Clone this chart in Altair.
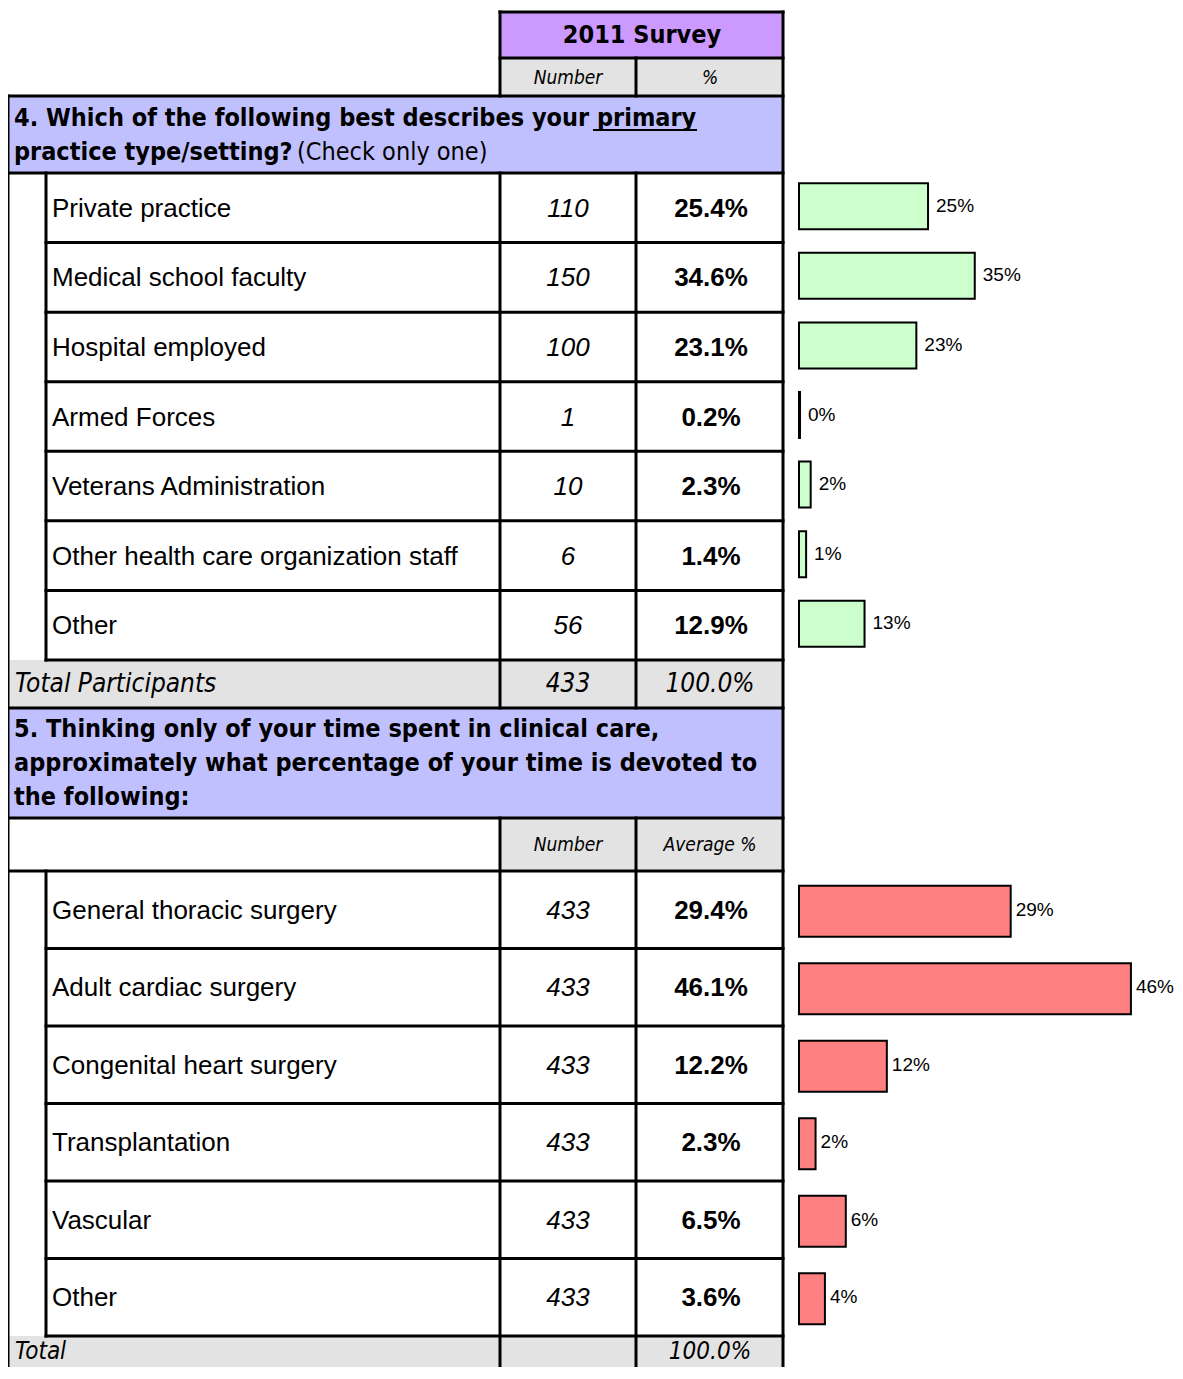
import altair as alt
import pandas as pd

# ---------------- data ----------------
survey_title = "2011 Survey"
q4_question_bold = ["4. Which of the following best describes your primary ", "practice type/setting?"]
q4_question_note = "(Check only one)"
q4_labels = ["Private practice", "Medical school faculty", "Hospital employed", "Armed Forces",
             "Veterans Administration", "Other health care organization staff", "Other"]
q4_numbers = [110, 150, 100, 1, 10, 6, 56]
q4_pcts = [25.4, 34.6, 23.1, 0.2, 2.3, 1.4, 12.9]
q4_total_label = "Total Participants"
q4_total_n = 433
q4_total_pct = 100.0

q5_question = ["5. Thinking only of your time spent in clinical care,",
               "approximately what percentage of your time is devoted to",
               "the following:"]
q5_labels = ["General thoracic surgery", "Adult cardiac surgery", "Congenital heart surgery",
             "Transplantation", "Vascular", "Other"]
q5_numbers = [433, 433, 433, 433, 433, 433]
q5_pcts = [29.4, 46.1, 12.2, 2.3, 6.5, 3.6]
q5_total_label = "Total"
q5_total_pct = 100.0

head_q4 = ["Number", "%"]
head_q5 = ["Number", "Average %"]

# ---------------- layout (page pixels) ----------------
W, H = 1167, 1359
OX, OY = 8, 8
XL, XI, XN, XP, XR = 8, 46, 500, 636, 783
Y_HDR, Y_SUB, Y_Q4, Y_R4 = 12, 58, 96, 173
R4H = (660 - 173) / 7
Y_T1 = Y_R4 + 7 * R4H
Y_Q5 = 708
Y_S5 = 818
Y_R5 = 871
R5H = (1336 - 871) / 6
Y_T2 = Y_R5 + 6 * R5H
Y_END = 1400

GRAY = "#E3E3E3"
PURPLE = "#CC99FF"
BLUE = "#C0C0FF"
GREEN = "#CCFFCC"
RED = "#FF8080"
REG = "Liberation Sans, Arial, Helvetica, sans-serif"
NARROW = "Liberation Sans Narrow, Arial Narrow, DejaVu Sans Condensed, sans-serif"

XS = alt.Scale(domain=[OX, OX + W], range=[0, W], nice=False, zero=False)
YS = alt.Scale(domain=[OY, OY + H], range=[0, H], nice=False, zero=False)

def X(f="x"):
    return alt.X(f"{f}:Q", scale=XS, axis=None)

def Y(f="y"):
    return alt.Y(f"{f}:Q", scale=YS, axis=None)

# ---------------- cell fills ----------------
fills = pd.DataFrame([
    dict(x=XN, x2=XR, y=Y_HDR, y2=Y_SUB, c=PURPLE),
    dict(x=XN, x2=XR, y=Y_SUB, y2=Y_Q4, c=GRAY),
    dict(x=XL, x2=XR, y=Y_Q4, y2=Y_R4, c=BLUE),
    dict(x=XL, x2=XR, y=Y_T1, y2=Y_Q5, c=GRAY),
    dict(x=XL, x2=XR, y=Y_Q5, y2=Y_S5, c=BLUE),
    dict(x=XN, x2=XR, y=Y_S5, y2=Y_R5, c=GRAY),
    dict(x=XL, x2=XR, y=Y_T2, y2=Y_END, c=GRAY),
])
fill_layer = alt.Chart(fills).mark_rect().encode(
    x=X(), x2="x2:Q", y=Y(), y2="y2:Q", color=alt.Color("c:N", scale=None))

# ---------------- grid lines ----------------
lines = []
def hl(y, x1, x2):
    lines.append(dict(x=x1, x2=x2, y=y, y2=y))
def vl(x, y1, y2):
    lines.append(dict(x=x, x2=x, y=y1, y2=y2))

hl(Y_HDR, XN, XR); hl(Y_SUB, XN, XR)
hl(Y_Q4, XL, XR); hl(Y_R4, XL, XR)
for i in range(1, len(q4_labels) + 1):
    hl(Y_R4 + i * R4H, XI, XR)
hl(Y_Q5, XL, XR); hl(Y_S5, XL, XR); hl(Y_R5, XL, XR)
for i in range(1, len(q5_labels) + 1):
    hl(Y_R5 + i * R5H, XI, XR)
vl(XL, Y_Q4, Y_END)
vl(XI, Y_R4, Y_T1); vl(XI, Y_R5, Y_T2)
for xx, top in [(XN, Y_HDR), (XP, Y_SUB)]:
    vl(xx, top, Y_Q4); vl(xx, Y_R4, Y_Q5); vl(xx, Y_S5, Y_END)
vl(XR, Y_HDR, Y_END)
line_df = pd.DataFrame(lines)
line_layer = alt.Chart(line_df).mark_rule(color="black", strokeWidth=3, strokeCap="square").encode(
    x=X(), x2="x2:Q", y=Y(), y2="y2:Q")

underline = alt.Chart(pd.DataFrame([dict(x=593, x2=697, y=130, y2=130)])).mark_rule(
    color="black", strokeWidth=2).encode(x=X(), x2="x2:Q", y=Y(), y2="y2:Q")

# ---------------- texts ----------------
def tl(rows, align="left", font=REG, size=24, weight="normal", style="normal"):
    return alt.Chart(pd.DataFrame(rows, columns=["x", "y", "t"])).mark_text(
        align=align, baseline="middle", font=font, fontSize=size, fontWeight=weight,
        fontStyle=style, color="black").encode(x=X(), y=Y(), text="t:N")

c4 = [Y_R4 + (i + 0.5) * R4H for i in range(len(q4_labels))]
c5 = [Y_R5 + (i + 0.5) * R5H for i in range(len(q5_labels))]
XNC, XPC = 568, 710
Y_TOT1 = (Y_T1 + Y_Q5) / 2
Y_TOT2 = 1352

texts = [
    tl([(642, 35, survey_title)], "center", NARROW, 25, "bold"),
    tl([(XNC, 78, head_q4[0]), (XPC, 78, head_q4[1]),
        (XNC, 845, head_q5[0]), (XPC, 845, head_q5[1])], "center", NARROW, 19, "normal", "italic"),
    tl([(14, 118, q4_question_bold[0]), (14, 152, q4_question_bold[1])] +
       [(14, 729 + 34 * i, s) for i, s in enumerate(q5_question)], "left", NARROW, 25, "bold"),
    tl([(297, 152, q4_question_note)], "left", NARROW, 25),
    tl([(52, c + 1, s) for c, s in zip(c4, q4_labels)] +
       [(52, c + 1, s) for c, s in zip(c5, q5_labels)], "left", REG, 26),
    tl([(XNC, c + 1, str(n)) for c, n in zip(c4, q4_numbers)] +
       [(XNC, c + 1, str(n)) for c, n in zip(c5, q5_numbers)], "center", REG, 26, "normal", "italic"),
    tl([(XPC + 1, c + 1, f"{p:.1f}%") for c, p in zip(c4, q4_pcts)] +
       [(XPC + 1, c + 1, f"{p:.1f}%") for c, p in zip(c5, q5_pcts)], "center", REG, 26, "bold"),
    tl([(15, Y_TOT1, q4_total_label)], "left", NARROW, 26, "normal", "italic"),
    tl([(XNC, Y_TOT1, str(q4_total_n)), (XPC, Y_TOT1, f"{q4_total_pct:.1f}%")],
       "center", NARROW, 26, "normal", "italic"),
    tl([(15, Y_TOT2, q5_total_label)], "left", NARROW, 24, "normal", "italic"),
    tl([(XPC, Y_TOT2, f"{q5_total_pct:.1f}%")], "center", NARROW, 24, "normal", "italic"),
]

table = alt.layer(fill_layer, line_layer, underline, *texts)

# ---------------- bars ----------------
BAR0 = 799
LAB_SIZE = 19
g_df = pd.DataFrame({"p": q4_pcts, "c": c4, "lab": [f"{round(p)}%" for p in q4_pcts]})
g_df["y"] = g_df["c"] - 1.5 - 23
g_df["y2"] = g_df["c"] - 1.5 + 23
g_df["ym"] = g_df["c"] - 2
GS = alt.Scale(domain=[0, 100], range=[BAR0 - OX, BAR0 - OX + 508], nice=False, zero=False)
g_bar = alt.Chart(g_df).mark_bar(color=GREEN, stroke="black", strokeWidth=2).encode(
    x=alt.X("p:Q", scale=GS, axis=None), x2=alt.datum(0), y=Y(), y2="y2:Q")
g_txt = alt.Chart(g_df).mark_text(align="left", baseline="middle", dx=8, font=REG,
                                  fontSize=LAB_SIZE, color="black").encode(
    x=alt.X("p:Q", scale=GS, axis=None), y=Y("ym"), text="lab:N")

r_df = pd.DataFrame({"p": q5_pcts, "c": c5, "lab": [f"{round(p)}%" for p in q5_pcts]})
r_df["y"] = r_df["c"] + 1.5 - 25.5
r_df["y2"] = r_df["c"] + 1.5 + 25.5
r_df["ym"] = r_df["c"]
RS = alt.Scale(domain=[0, 100], range=[BAR0 - OX, BAR0 - OX + 720], nice=False, zero=False)
r_bar = alt.Chart(r_df).mark_bar(color=RED, stroke="black", strokeWidth=2).encode(
    x=alt.X("p:Q", scale=RS, axis=None), x2=alt.datum(0), y=Y(), y2="y2:Q")
r_txt = alt.Chart(r_df).mark_text(align="left", baseline="middle", dx=5, font=REG,
                                  fontSize=LAB_SIZE, color="black").encode(
    x=alt.X("p:Q", scale=RS, axis=None), y=Y("ym"), text="lab:N")

chart = alt.layer(table, alt.layer(g_bar, g_txt), alt.layer(r_bar, r_txt)).resolve_scale(
    x="independent").properties(
    width=W, height=H, autosize=alt.AutoSizeParams(type="none"), padding=0
).configure_view(stroke=None)

chart.save("out.html", embed_options={"renderer": "svg", "actions": False})
